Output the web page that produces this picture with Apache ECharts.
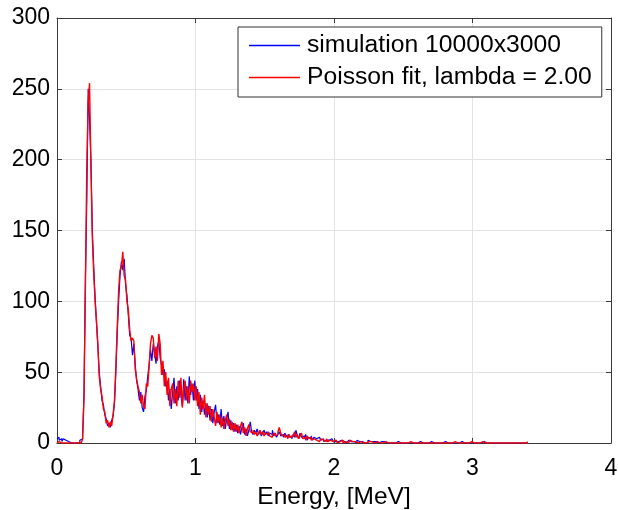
<!DOCTYPE html>
<html>
<head>
<meta charset="utf-8">
<script src="https://cdn.jsdelivr.net/npm/echarts@6/dist/echarts.min.js"></script>
<style>
html,body{margin:0;padding:0;background:#fff;}
#chart{width:618px;height:510px;}
</style>
</head>
<body>
<div id="chart"></div>
<script>
// Histogram bins start at 0 MeV, width 0.01 MeV
const binWidth = 0.01;
const xTicks = [0, 1, 2, 3, 4];
const yTicks = [0, 50, 100, 150, 200, 250, 300];
const seriesNames = ['simulation 10000x3000', 'Poisson fit, lambda = 2.00'];

// simulation counts per bin (E = 0.00 ... 3.40)
const simulation = [
  3,4,2,3,1,3,2,1,1,0, 0,0,0,1,0,0,0,2,3,5,
  35,115,170,250,228,200,150,125,103,85,
  68,50,40,30,27,20,17,12,14,11,
  16,19,28,50,78,100,118,128,122,130,
  112,104,90,76,74,62,70,55,44,38,
  30,36,25,22,33,37,47,55,66,58,
  70,64,56,68,72,60,55,48,52,40,
  44,30,38,24,36,46,28,40,30,44,
  33,26,45,30,40,28,47,34,42,30,
  44,30,38,24,34,22,30,20,28,18,
  26,16,24,14,22,27,14,20,13,24,
  12,19,10,17,22,10,16,9,14,8,
  13,7,12,6,11,14,6,10,5,9,
  15,8,6,9,7,10,6,8,5,7,
  9,6,8,5,7,6,9,5,7,4,
  6,8,5,6,4,7,5,6,4,5,
  3,6,4,9,5,3,7,4,5,3,
  6,2,4,3,5,2,4,3,2,4,
  3,2,3,1,2,3,2,1,3,2,
  1,1,2,1,0,2,1,1,2,0,
  1,2,1,0,1,1,0,2,1,0,
  1,1,0,1,0,2,1,0,1,0,
  1,0,0,1,1,0,1,0,0,1,
  0,0,0,1,0,0,1,0,0,0,
  0,1,0,0,0,0,0,1,0,0,
  0,0,1,0,0,0,0,0,0,0,
  1,0,0,0,0,0,0,0,0,0,
  1,0,0,0,0,0,0,0,0,0,
  0,0,1,0,0,0,0,0,0,0,
  0,0,0,0,0,0,0,0,1,0,
  0,0,0,0,0,0,0,0,0,1,
  0,0,0,0,0,1,0,0,0,0,
  0,0,0,0,0,0,0,0,0,0,
  0
];

// Poisson fit counts per bin (E = 0.00 ... 3.40)
const poissonFit = [
  0,0,1,0,0,0,0,0,0,0, 0,0,0,0,0,0,0,0,1,3,
  32,111,195,240,254,195,145,120,100,86,
  70,47,38,33,24,22,14,16,11,15,
  12,20,30,54,82,108,122,124,135,118,
  115,100,94,80,72,74,72,52,45,40,
  36,28,34,26,24,42,40,54,70,76,
  74,60,68,58,77,70,48,58,40,50,
  34,46,26,38,42,28,38,26,44,32,
  46,25,38,44,30,40,28,44,36,42,
  30,40,26,36,20,32,24,34,18,28,
  20,26,15,24,18,12,22,14,20,11,
  18,10,16,20,12,17,9,15,8,14,
  8,13,7,12,15,7,11,5,10,13,
  8,7,9,6,8,5,7,9,6,8,
  5,7,6,8,5,4,6,7,5,6,
  8,11,7,5,6,4,5,3,6,4,
  5,5,8,4,6,3,5,7,3,4,
  2,5,3,4,2,3,4,2,3,1,
  2,3,2,2,1,3,1,2,2,1,
  2,2,1,0,1,1,2,0,1,1,
  0,1,2,1,0,1,1,0,1,1,
  0,0,1,0,1,1,0,1,0,0,
  1,1,0,0,1,0,0,1,0,0,
  1,0,0,0,1,0,0,0,1,0,
  0,0,0,0,0,1,0,0,0,0,
  1,0,0,0,0,0,0,0,1,0,
  0,0,0,0,0,0,0,0,0,0,
  0,0,0,0,0,0,0,1,0,0,
  0,0,0,0,0,0,0,0,0,1,
  0,0,0,0,0,0,0,1,0,0,
  0,0,0,0,0,0,0,0,0,0,
  0,0,0,0,0,0,0,0,0,0,
  0,0,0,0,0,0,0,0,0,0,
  1
];

function toPairs(arr) {
  return arr.map((v, i) => [Math.round(i * binWidth * 100) / 100, v]);
}

const font = 'Liberation Sans, Arial, Helvetica, sans-serif';
const gridColor = '#e3e3e3';
const axisColor = '#3a3a3a';

const chart = echarts.init(document.getElementById('chart'), null, {renderer: 'canvas'});

const baseX = {
  type: 'value', min: xTicks[0], max: xTicks[xTicks.length - 1], interval: 1,
  axisLine: {show: true, onZero: false, lineStyle: {color: axisColor, width: 1}},
  axisTick: {show: true, inside: true, length: 5, lineStyle: {color: axisColor}},
  splitLine: {show: false}
};
const baseY = {
  type: 'value', min: yTicks[0], max: yTicks[yTicks.length - 1], interval: 50,
  axisLine: {show: true, onZero: false, lineStyle: {color: axisColor, width: 1}},
  axisTick: {show: true, inside: true, length: 5, lineStyle: {color: axisColor}},
  splitLine: {show: false}
};

chart.setOption({
  animation: false,
  backgroundColor: '#fff',
  grid: {left: 57, right: 7, top: 18, bottom: 67, containLabel: false, outerBoundsMode: 'none'},
  legend: {
    left: 238, top: 27, orient: 'vertical',
    padding: [6, 10, 7, 11], itemGap: 7,
    itemWidth: 51, itemHeight: 1.5, icon: 'rect',
    borderColor: '#333', borderWidth: 1, backgroundColor: '#fff',
    textStyle: {fontSize: 24.7, fontFamily: font, color: '#000', padding: [0, 0, 0, 2]},
    data: seriesNames
  },
  xAxis: [
    Object.assign({}, baseX, {
      position: 'bottom',
      name: 'Energy, [MeV]', nameLocation: 'middle', nameGap: 41,
      nameTextStyle: {fontSize: 24.5, fontFamily: font, color: '#000'},
      axisLabel: {show: true, margin: 14, fontSize: 23, fontFamily: font, color: '#000'},
      splitLine: {show: true, lineStyle: {color: gridColor, width: 1}}
    }),
    Object.assign({}, baseX, {position: 'top', axisLabel: {show: false}})
  ],
  yAxis: [
    Object.assign({}, baseY, {
      position: 'left',
      axisLabel: {show: true, margin: 7, fontSize: 23, fontFamily: font, color: '#000'},
      splitLine: {show: true, lineStyle: {color: gridColor, width: 1}}
    }),
    Object.assign({}, baseY, {position: 'right', axisLabel: {show: false}})
  ],
  series: [
    {
      name: seriesNames[0], type: 'line', step: 'middle',
      xAxisIndex: 0, yAxisIndex: 0,
      data: toPairs(simulation), showSymbol: false, symbol: 'none',
      lineStyle: {color: '#0000ff', width: 1.2}, itemStyle: {color: '#0000ff'},
      clip: true, z: 2
    },
    {
      name: seriesNames[1], type: 'line', step: 'middle',
      xAxisIndex: 0, yAxisIndex: 0,
      data: toPairs(poissonFit), showSymbol: false, symbol: 'none',
      lineStyle: {color: '#ff0000', width: 1.4}, itemStyle: {color: '#ff0000'},
      clip: true, z: 3
    }
  ]
});
</script>
</body>
</html>
